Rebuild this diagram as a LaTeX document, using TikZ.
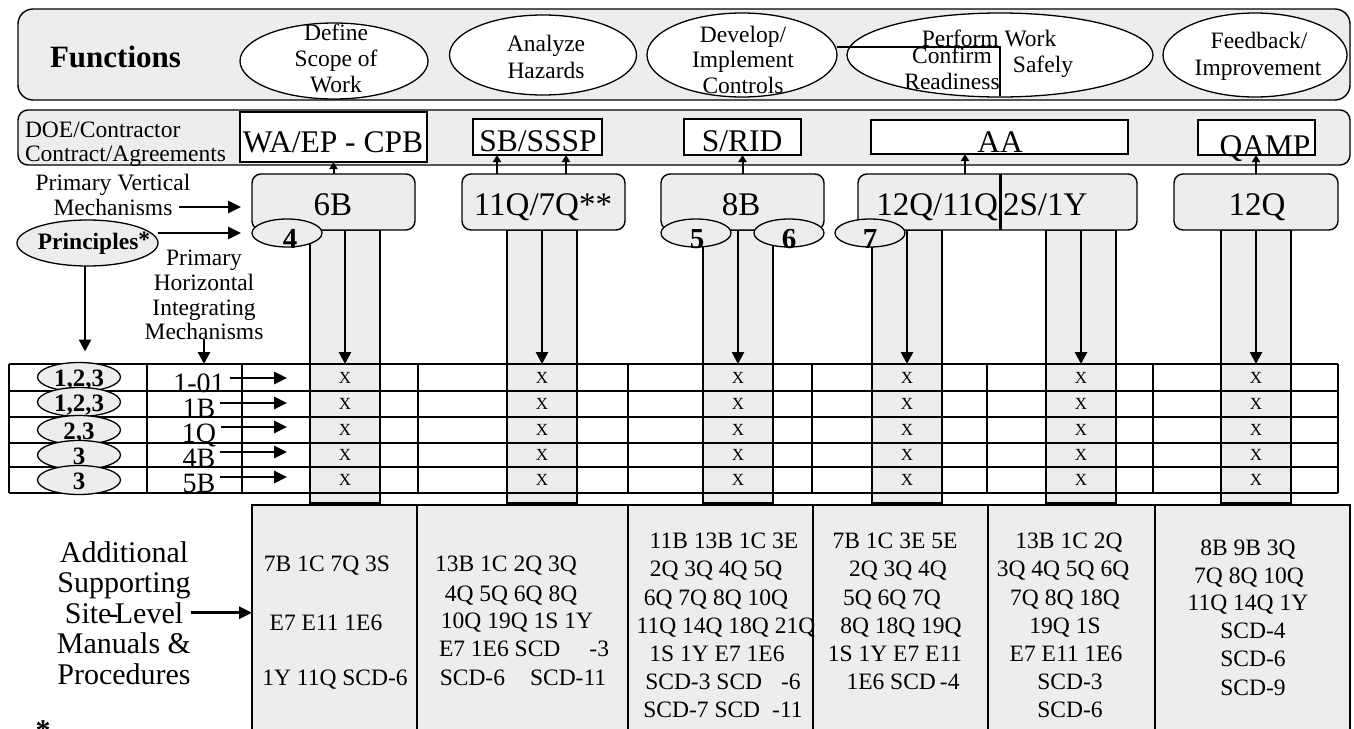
\documentclass[tikz,border=0pt]{standalone}
\usepackage{fontspec}
\setmainfont{Liberation Serif}
\usetikzlibrary{arrows.meta,shapes.geometric}
\definecolor{lgray}{RGB}{237,237,237}
\newcommand{\myfs}[2]{\fontsize{#1}{#2}\selectfont}
\begin{document}
\begin{tikzpicture}[x=1pt,y=-1pt,
  panel/.style={draw,line width=1.4pt,fill=lgray,inner sep=0pt,outer sep=0pt,anchor=north west},
  wbox/.style={draw,line width=1.4pt,fill=white,inner sep=0pt,outer sep=0pt,anchor=north west},
  mech/.style={draw,line width=1.4pt,fill=lgray,rounded corners=9pt,inner sep=0pt,outer sep=0pt,anchor=north west,minimum height=56},
  strip/.style={draw,line width=1.3pt,fill=lgray,inner sep=0pt,outer sep=0pt,anchor=north west,minimum width=70,minimum height=273},
  bbox/.style={draw,line width=1.4pt,fill=lgray,inner sep=0pt,outer sep=0pt,anchor=north west,minimum height=240},
  fell/.style={ellipse,draw,line width=1.3pt,fill=white,inner sep=0pt,outer sep=0pt},
  gell/.style={ellipse,draw,line width=1.3pt,fill=lgray,inner sep=0pt,outer sep=0pt},
  txt/.style={inner sep=0pt,outer sep=0pt,anchor=base},
  tline/.style={line width=1.3pt},
  darr/.style={line width=2.6pt,-{Triangle[length=12pt,width=12pt]}},
  uarr/.style={line width=2pt,-{Triangle[length=7pt,width=8pt]}},
  harr/.style={line width=2.6pt,-{Triangle[length=13pt,width=12pt]}},
  fa/.style={font=\myfs{23.5}{25}},
  fbox/.style={font=\myfs{31.5}{32}},
  fmech/.style={font=\myfs{33}{34}},
  fbot/.style={font=\myfs{23.5}{25}}
]
\useasboundingbox (0,0) rectangle (1354,728);
\clip (0,0) rectangle (1354,728);
\fill[white] (0,0) rectangle (1354,728);

% ---------- Functions panel ----------
\node[panel,rounded corners=15pt,minimum width=1332,minimum height=91] (fun) at (18,9) {};
\node[txt,font=\bfseries\myfs{31}{33}] (funt) at (115.5,67) {Functions};

\node[fell,minimum width=188,minimum height=76] (e1) at (334,61) {};
\node[fell,minimum width=187,minimum height=80] (e2) at (543,55) {};
\node[fell,minimum width=190,minimum height=84] (e3) at (742,55) {};
\node[fell,minimum width=306,minimum height=84] (e4) at (1000,55) {};
\node[fell,minimum width=184,minimum height=84] (e5) at (1255,55) {};
\draw[line width=1.2pt] (837,47) -- (1000,47) -- (1000,96);

\node[txt,fa] (e1a) at (336,40) {Define};
\node[txt,fa] (e1b) at (336,66) {Scope of};
\node[txt,fa] (e1c) at (336,92) {Work};
\node[txt,fa] (e2a) at (546,51) {Analyze};
\node[txt,fa] (e2b) at (546,78) {Hazards};
\node[txt,fa] (e3a) at (743,42) {Develop/};
\node[txt,fa] (e3b) at (743,67) {Implement};
\node[txt,fa] (e3c) at (743,93) {Controls};
\node[txt,fa] (e4a) at (989,46) {Perform Work};
\node[txt,fa] (e4b) at (1043,72) {Safely};
\node[txt,fa] (cr1) at (952,63) {Confirm};
\node[txt,fa] (cr2) at (952,89) {Readiness};
\node[txt,fa] (e5a) at (1259,48) {Feedback/};
\node[txt,fa] (e5b) at (1258,75) {Improvement};

% ---------- DOE panel ----------
\node[panel,rounded corners=10pt,minimum width=1332,minimum height=55] (doe) at (18,110) {};
\node[txt,fa,anchor=base west] (doe1) at (25,137) {DOE/Contractor};
\node[txt,fa,anchor=base west] (doe2) at (25,161) {Contract/Agreements};

\node[wbox,minimum width=187,minimum height=50] (d1) at (240,112) {};
\node[wbox,minimum width=129,minimum height=36] (d2) at (473,119) {};
\node[wbox,minimum width=117,minimum height=36] (d3) at (684,119) {};
\node[wbox,minimum width=257,minimum height=34] (d4) at (871,120) {};
\node[wbox,minimum width=117,minimum height=35] (d5) at (1198,120) {};
\node[txt,fbox] (d1t) at (333,152) {WA/EP - CPB};
\node[txt,fbox] (d2t) at (538,151) {SB/SSSP};
\node[txt,fbox] (d3t) at (742,151) {S/RID};
\node[txt,fbox] (d4t) at (1000,152) {AA};
\node[txt,fbox] (d5t) at (1265,156) {QAMP};

% ---------- strips ----------
\foreach \n/\xx in {1/310,2/507,3/703,4/872,5/1046,6/1221}
  \node[strip] (s\n) at (\xx,230) {};

% ---------- table ----------
\coordinate (ttl) at (9,364);
\foreach \yy in {364,391,417,443,467,493}
  \draw[tline] (9,\yy) -- (1338,\yy);
\foreach \xx in {9,147,242,418,628,812,987,1153,1338}
  \draw[tline] (\xx,364) -- (\xx,493);
\foreach \n in {1,...,6}
  \foreach \yy [count=\r] in {383,409.5,435,460.5,485.5}
    \node[txt,font=\myfs{17}{17}] (x\n r\r) at (s\n.north |- 0,\yy) {X};

% ---------- vertical mechanisms ----------
\node[mech,minimum width=163] (m1) at (252,174) {};
\node[mech,minimum width=163] (m2) at (462,174) {};
\node[mech,minimum width=163] (m3) at (661,174) {};
\node[mech,minimum width=279] (m4) at (858,174) {};
\node[mech,minimum width=164] (m5) at (1174,174) {};
\draw[line width=3pt] ([xshift=2.5pt]m4.north) -- ([xshift=2.5pt]m4.south);
\node[txt,fmech] (m1t) at (333,215) {6B};
\node[txt,fmech] (m2t) at (543,215) {11Q/7Q**};
\node[txt,fmech] (m3t) at (741,215) {8B};
\node[txt,fmech,anchor=base east] (m4t) at (998,215) {12Q/11Q};
\node[txt,fmech,anchor=base west] (m4u) at (1003,215) {2S/1Y};
\node[txt,fmech] (m5t) at (1257,215) {12Q};

\node[gell,minimum width=70,minimum height=28] (n4) at (287,233) {};
\node[gell,minimum width=70,minimum height=28] (n5) at (696,233) {};
\node[gell,minimum width=70,minimum height=28] (n6) at (789,233) {};
\node[gell,minimum width=70,minimum height=28] (n7) at (870,233) {};
\node[txt,font=\bfseries\myfs{29}{29}] (n4t) at (290,248) {4};
\node[txt,font=\bfseries\myfs{29}{29}] (n5t) at (697,248) {5};
\node[txt,font=\bfseries\myfs{29}{29}] (n6t) at (789,248) {6};
\node[txt,font=\bfseries\myfs{29}{29}] (n7t) at (870,248) {7};

% up arrows
\draw[uarr] (m1.north) -- (m1.north |- d1.south);
\draw[uarr] ([xshift=-46.5pt]m2.north) -- ([xshift=-46.5pt]m2.north |- d2.south);
\draw[uarr] ([xshift=22.5pt]m2.north) -- ([xshift=22.5pt]m2.north |- d2.south);
\draw[uarr] (m3.north) -- (m3.north |- d3.south);
\draw[uarr] ([xshift=-32.5pt]m4.north) -- ([xshift=-32.5pt]m4.north |- d4.south);
\draw[uarr] (m5.north) -- (m5.north |- d5.south);

% down arrows in strips
\foreach \n in {1,...,6}
  \draw[darr] (s\n.north) -- (s\n.north |- ttl);

% ---------- left labels ----------
\node[txt,fa] (pv1) at (113,190) {Primary Vertical};
\node[txt,fa] (pv2) at (113,215) {Mechanisms};
\coordinate (pvE) at (241,207);
\draw[harr,shorten <=7pt] (pv2.base east |- pvE) -- (pvE);

\node[gell,minimum width=141,minimum height=46] (pr) at (87.5,243) {};
\node[txt,font=\bfseries\myfs{23.5}{25}] (prt) at (94,249) {Principles\raisebox{2pt}{*}};
\coordinate (prE) at (241,233);
\draw[harr] (pr.east |- prE) -- (prE);

\foreach \t/\yy [count=\i] in {Primary/265,Horizontal/290,Integrating/315,Mechanisms/339}
  \node[txt,fa] (ph\i) at (204,\yy) {\t};
\draw[darr] (ph4.south) -- (ph4.south |- ttl);

\foreach \t/\yy [count=\i] in {{1,2,3}/377,{1,2,3}/402,{2,3}/430,3/455,3/480}{
  \node[gell,minimum width=83,minimum height=29] (pe\i) at (79,\yy) {};
  \node[txt,font=\bfseries\myfs{25}{25}] (pet\i) at (79,{\yy+9}) {\t};
}
\draw[darr,shorten >=11pt] ([xshift=-2.5pt]pr.south) -- ([xshift=-2.5pt]pr.south |- pe1.north);

\foreach \t/\yy/\ay [count=\i] in {1-01/392/378,1B/417/403,1Q/442/427,4B/467/452,5B/492/477}{
  \node[txt,font=\myfs{28}{28}] (rl\i) at (199,\yy) {\t};
  \coordinate (ra\i) at (287,\ay);
  \draw[harr,shorten <=5pt] (rl\i.east |- ra\i) -- (ra\i);
}

% ---------- bottom ----------
\node[bbox,minimum width=165] (b1) at (252,505) {};
\node[bbox,minimum width=211] (b2) at (417,505) {};
\node[bbox,minimum width=185] (b3) at (628,505) {};
\node[bbox,minimum width=175] (b4) at (813,505) {};
\node[bbox,minimum width=167] (b5) at (988,505) {};
\node[bbox,minimum width=195] (b6) at (1155,505) {};

\foreach \t [count=\i] in {Additional,Supporting,Site\kern-.1em-\kern-.12em Level,Manuals \&,Procedures}
  \node[txt,font=\myfs{30}{30}] (al\i) at (124,{562+(\i-1)*30.5}) {\t};
\draw[harr,shorten <=8pt] (al3.east) -- (al3.east -| b1.west);
\node[txt,font=\bfseries\myfs{30}{30}] (fn) at (43,740) {*};

\foreach \xx/\yy/\t [count=\i] in {327/571/7B 1C 7Q 3S,326/630/E7 E11 1E6,335/685/1Y 11Q SCD-6}
  \node[txt,fbot] (c1l\i) at (\xx,\yy) {\t};
\foreach \xx/\yy/\t [count=\i] in {506/571/13B 1C 2Q 3Q,511/601/4Q 5Q 6Q 8Q,517/628/10Q 19Q 1S 1Y,
    524/656/E7 1E6 SCD\hspace{29pt}-3,523/685/SCD-6\hspace{25pt}SCD-11}
  \node[txt,fbot] (c2l\i) at (\xx,\yy) {\t};
\foreach \xx/\yy/\t [count=\i] in {724/548/11B 13B 1C 3E,716/576/2Q 3Q 4Q 5Q,716/605/6Q 7Q 8Q 10Q,
    726/633/11Q 14Q 18Q 21Q,717/661/1S 1Y E7 1E6,723/689/SCD-3 SCD\hspace{19pt}-6,723/717/SCD-7 SCD\hspace{12pt}-11}
  \node[txt,fbot] (c3l\i) at (\xx,\yy) {\t};
\foreach \xx/\yy/\t [count=\i] in {895/548/7B 1C 3E 5E,898/576/2Q 3Q 4Q,892/605/5Q 6Q 7Q,
    901/633/8Q 18Q 19Q,895/661/1S 1Y E7 E11,903/689/1E6 SCD\hspace{4pt}-4}
  \node[txt,fbot] (c4l\i) at (\xx,\yy) {\t};
\foreach \xx/\yy/\t [count=\i] in {1069/548/13B 1C 2Q,1063/576/3Q 4Q 5Q 6Q,1065/605/7Q 8Q 18Q,
    1065/633/19Q 1S,1066/661/E7 E11 1E6,1070/689/SCD-3,1070/717/SCD-6}
  \node[txt,fbot] (c5l\i) at (\xx,\yy) {\t};
\foreach \xx/\yy/\t [count=\i] in {1248/555/8B 9B 3Q,1249/583/7Q 8Q 10Q,1248/610/11Q 14Q 1Y,
    1253/638/SCD-4,1253/666/SCD-6,1253/695/SCD-9}
  \node[txt,fbot] (c6l\i) at (\xx,\yy) {\t};
\end{tikzpicture}
\end{document}
